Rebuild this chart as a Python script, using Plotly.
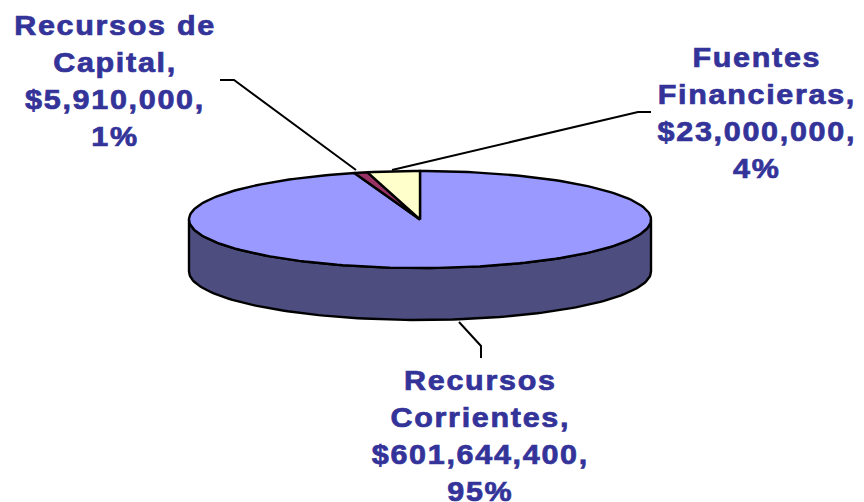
import numpy as np
import plotly.graph_objects as go

categories = ["Recursos Corrientes", "Recursos de Capital", "Fuentes Financieras"]
values = [601644400, 5910000, 23000000]
percent_labels = ["95%", "1%", "4%"]

top_colors = ["#9999FF", "#993366", "#FFFFCC"]
side_color = "#4D4D80"
text_color = "#333399"

CX, CY, RX, RY, DEPTH = 420, 219.5, 231, 48.5, 52

total = sum(values)
ends = np.cumsum(values) / total * 360.0
starts = np.concatenate([[0.0], ends[:-1]])


def arc(a0, a1, dy=0.0):
    n = max(2, int(abs(a1 - a0) / 1.5) + 2)
    t = np.radians(np.linspace(a0, a1, n))
    return CX + RX * np.sin(t), CY + dy - RY * np.cos(t)


fig = go.Figure()
line = dict(color="black", width=2.4)

# Front wall of the disc: the part of the largest slice facing the viewer
x1, y1 = arc(90, 270)
x2, y2 = arc(270, 90, DEPTH)
fig.add_trace(go.Scatter(
    x=np.r_[x1, x2, x1[0]], y=np.r_[y1, y2, y1[0]], mode="lines", fill="toself",
    fillcolor=side_color, line=line, hoverinfo="skip", showlegend=False,
))

# Top face slices
for name, a0, a1, col in zip(categories, starts, ends, top_colors):
    xa, ya = arc(a0, a1)
    fig.add_trace(go.Scatter(
        x=np.r_[CX, xa, CX], y=np.r_[CY, ya, CY], mode="lines", fill="toself",
        fillcolor=col, line=line, name=name,
        hoverinfo="name", showlegend=False,
    ))

leaders = [
    [(220, 80), (234, 80), (356, 170)],
    [(392, 170), (638, 112), (651, 112)],
    [(459, 322), (481, 346), (481, 358)],
]
shapes = []
for pts in leaders:
    path = "M " + " L ".join(f"{x},{y}" for x, y in pts)
    shapes.append(dict(type="path", path=path, xref="x", yref="y",
                       line=dict(color="black", width=2)))


def money(v):
    return f"${v:,}"


label_pos = {0: (480, 435.5), 1: (115, 80), 2: (757, 112)}
label_lines = {
    0: ["Recursos", "Corrientes,"],
    1: ["Recursos de", "Capital,"],
    2: ["Fuentes", "Financieras,"],
}
annotations = []
for i, v in enumerate(values):
    text = "<br>".join(label_lines[i] + [money(v) + ",", percent_labels[i]])
    x, y = label_pos[i]
    annotations.append(dict(
        x=x, y=y, xref="x", yref="y", text=f"<b>{text}</b>", showarrow=False,
        xanchor="center", yanchor="middle", align="center",
        font=dict(family="Liberation Sans", size=27, color=text_color),
    ))

fig.update_layout(
    width=864, height=502, margin=dict(l=0, r=0, t=0, b=0),
    paper_bgcolor="white", plot_bgcolor="white", showlegend=False,
    xaxis=dict(range=[0, 864], visible=False, fixedrange=True),
    yaxis=dict(range=[502, 0], visible=False, fixedrange=True),
    shapes=shapes, annotations=annotations,
)

stretch = """
document.body.style.margin = '0';
document.documentElement.style.overflow = 'hidden';
document.querySelectorAll('text.annotation-text').forEach(function (t) {
  t.style.letterSpacing = '1.5px';
  t.style.stroke = '#333399';
  t.style.strokeWidth = '0.7px';
  var b = t.getBBox(), cx = b.x + b.width / 2, cy = b.y + b.height / 2;
  t.setAttribute('transform', 'translate(' + cx + ',' + cy + ') scale(1.13,1.054) translate(' + (-cx) + ',' + (-cy) + ')');
});
"""
fig.write_html("out.html", post_script=stretch,
               config={"displayModeBar": False, "responsive": False})
